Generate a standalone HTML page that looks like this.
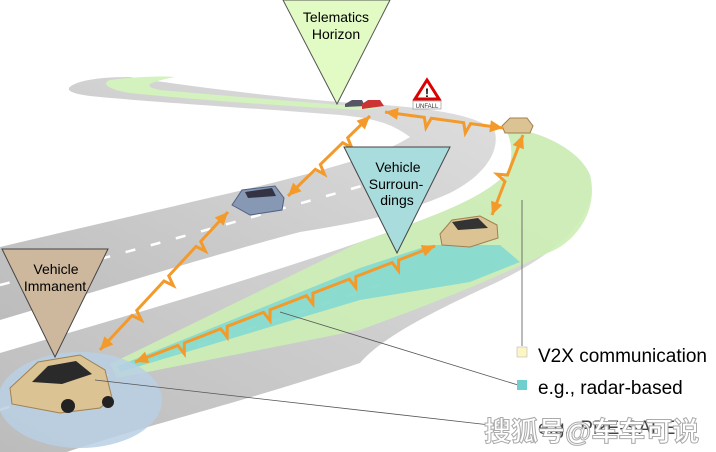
<!DOCTYPE html>
<html><head><meta charset="utf-8"><style>
html,body{margin:0;padding:0;background:#fff;}
svg{display:block;font-family:"Liberation Sans",sans-serif;}
</style></head><body>
<svg id="s" width="716" height="452" viewBox="0 0 716 452" xmlns="http://www.w3.org/2000/svg">
<defs>
<linearGradient id="rg" x1="0" y1="1" x2="1" y2="0">
<stop offset="0" stop-color="#bcbcbc"/><stop offset="0.6" stop-color="#d2d2d2"/><stop offset="1" stop-color="#e0e0e0"/></linearGradient>
</defs>
<path d="M0,247 C80,228 150,212 200,200 C280,182 340,166 380,152 C395,146 405,140 410,137 C390,122 370,118 340,115 C250,108 150,102 90,96 C66,93 62,88 80,82 C95,78 110,77 130,77 C200,88 300,100 370,104 C430,108 480,115 495,132 C500,155 480,178 450,193 C400,215 360,222 300,232 C230,250 100,290 0,320 Z" fill="url(#rg)"/>
<path d="M0,353 C120,318 250,280 360,242 C430,218 480,200 505,175 C515,160 512,140 505,128 C540,130 580,150 590,175 C600,215 560,255 480,290 C420,318 380,340 360,363 C250,400 130,430 67,452 L0,452 Z" fill="url(#rg)"/>
<path d="M0,285 C120,255 260,215 400,175 M0,410 C120,370 250,330 380,285" stroke="#fff" stroke-width="2.5" stroke-dasharray="10,16" fill="none"/>
<path d="M110,364 L360,242 C430,218 480,200 505,175 C515,160 512,140 505,128 C540,130 580,150 590,175 C600,215 570,245 550,252 C510,270 470,290 360,330 L117,378 Z" fill="#cdeeb5" opacity="0.9"/>
<path d="M110,80 C140,76 170,76 175,77 C150,82 140,86 160,90 C250,98 330,104 380,108 L360,110 C280,106 200,100 130,93 C110,90 100,84 110,80 Z" fill="#d3f2bd"/>
<path d="M118,366 L360,268 L430,245 L500,245 L520,262 L470,282 L360,300 L120,372 Z" fill="#6fd6d8" opacity="0.7"/>
<ellipse cx="80" cy="400" rx="82" ry="48" fill="#b8d0e4" opacity="0.85"/>
<g>
<path d="M10,388 L38,362 L80,355 L105,370 L112,398 L100,408 L60,413 L12,404 Z" fill="#dcc394" stroke="#a08050"/>
<path d="M32,382 L48,366 L76,361 L92,374 L62,384 Z" fill="#2a2a2a"/>
<circle cx="68" cy="406" r="7" fill="#222"/><circle cx="108" cy="402" r="6" fill="#222"/>
<path d="M232,205 L242,190 L275,186 L284,198 L282,210 L250,215 Z" fill="#8798b4" stroke="#506080"/>
<path d="M245,192 L272,188 L276,196 L248,198 Z" fill="#334"/>
<path d="M440,234 L452,220 L480,216 L497,225 L498,238 L470,247 L442,245 Z" fill="#dcc394" stroke="#a08050"/>
<path d="M452,222 L478,218 L488,228 L458,230 Z" fill="#333"/>
<path d="M502,126 L510,118 L527,118 L533,126 L530,133 L505,133 Z" fill="#dcc394" stroke="#a08050"/>
<path d="M345,104 L352,100 L362,100 L365,106 L345,107 Z" fill="#556"/>
<path d="M362,104 L368,100 L380,100 L384,106 L362,109 Z" fill="#c33"/>
</g>
<polygon points="427,80 415,99 439,99" fill="#fff" stroke="#d00" stroke-width="3"/>
<text x="427" y="97" font-size="12" font-weight="bold" text-anchor="middle">!</text>
<rect x="413" y="101" width="28" height="8" fill="#fff" stroke="#888" stroke-width="0.6"/>
<text x="427" y="108" font-size="6" text-anchor="middle" fill="#333">UNFALL</text>
<g id="arrows" stroke="#f39a2a" fill="none" stroke-width="3" stroke-linejoin="miter"></g>
<g stroke="#555" stroke-width="0.8">
<line x1="522" y1="200" x2="522" y2="346"/>
<line x1="280" y1="312" x2="518" y2="385"/>
<line x1="95" y1="380" x2="490" y2="425"/>
</g>
<polygon points="283,0 390,0 337,104" fill="#e2fbc4" stroke="#555" stroke-width="1"/>
<text x="336" y="22" font-size="14" text-anchor="middle">Telematics</text>
<text x="336" y="39" font-size="14" text-anchor="middle">Horizon</text>
<polygon points="344,147 450,147 397,253" fill="#a9dcdc" stroke="#444" stroke-width="1"/>
<text x="398" y="172" font-size="14" text-anchor="middle">Vehicle</text>
<text x="396" y="189" font-size="14" text-anchor="middle">Surroun-</text>
<text x="397" y="205" font-size="14" text-anchor="middle">dings</text>
<polygon points="2,249 108,249 55,357" fill="#cdb89e" stroke="#444" stroke-width="1"/>
<text x="56" y="274" font-size="14" text-anchor="middle">Vehicle</text>
<text x="55" y="291" font-size="14" text-anchor="middle">Immanent</text>
<rect x="517" y="347" width="10" height="10" fill="#fbf6c4" stroke="#bbb" stroke-width="0.6"/>
<text x="538" y="362" font-size="19">V2X communication</text>
<rect x="517" y="380" width="10" height="10" fill="#6fcfcf"/>
<text x="538" y="394" font-size="19">e.g., radar-based</text>
<text x="538" y="434" font-size="19" fill="#444">e.g., PRE-SAFE</text>
<text x="484" y="441" font-size="27" fill="#fff" stroke="#aaa" stroke-width="1" font-family="'Liberation Sans','Noto Sans CJK SC',sans-serif" font-weight="bold">搜狐号@车车可说</text>
</svg>
<script>
var g=document.getElementById('arrows'),NS="http://www.w3.org/2000/svg";
function zig(x1,y1,x2,y2){
 var dx=x2-x1,dy=y2-y1,L=Math.hypot(dx,dy),ux=dx/L,uy=dy/L,px=-uy,py=ux;
 var pts=[[x1,y1]],n=Math.max(2,Math.round(L/45)),h=13;
 for(var i=1;i<n;i++){var t=i/n*L;
  pts.push([x1+ux*t,y1+uy*t]);
  pts.push([x1+ux*(t+3)+px*10,y1+uy*(t+3)+py*10]);
  pts.push([x1+ux*(t+7),y1+uy*(t+7)]);
 }
 pts.push([x2,y2]);
 var p=document.createElementNS(NS,'polyline');
 p.setAttribute('points',pts.map(function(a){return a.join(',')}).join(' '));g.appendChild(p);
 [[x1,y1,-1],[x2,y2,1]].forEach(function(e){
  var bx=e[0]-e[2]*ux*h,by=e[1]-e[2]*uy*h;
  var t=document.createElementNS(NS,'polygon');
  t.setAttribute('points',e[0]+','+e[1]+' '+(bx+px*6)+','+(by+py*6)+' '+(bx-px*6)+','+(by-py*6));
  t.setAttribute('fill','#f39a2a');t.setAttribute('stroke','none');g.appendChild(t);
 });
}
zig(100,350,228,212);
zig(288,196,370,116);
zig(385,112,503,128);
zig(523,135,492,215);
zig(135,362,435,246);
</script>
</body></html>
